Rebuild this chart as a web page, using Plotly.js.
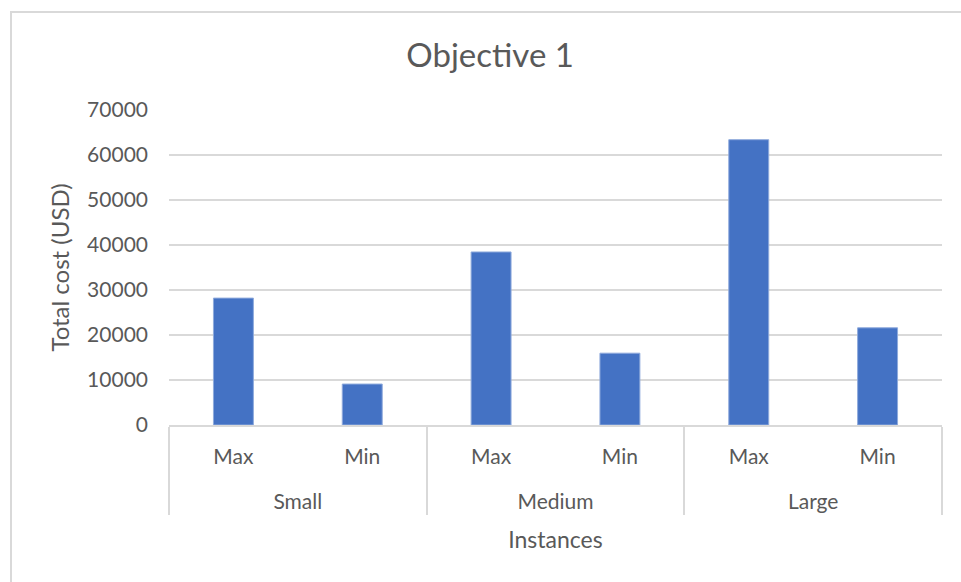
<!DOCTYPE html>
<html>
<head>
<meta charset="utf-8">
<script src="https://cdn.plot.ly/plotly-3.0.1.min.js"></script>
<style>
  html, body { margin: 0; padding: 0; background: #fff; }
  #wrap { position: relative; width: 961px; height: 582px; overflow: hidden; }
  #chart { position: absolute; left: 0; top: 0; width: 961px; height: 582px; }
  #frame {
    position: absolute; left: 10px; top: 11px; width: 1000px; height: 620px;
    border-left: 2px solid #d9d9d9; border-top: 2px solid #d9d9d9;
    pointer-events: none;
  }
</style>
</head>
<body>
<div id="wrap">
  <div id="chart"></div>
  <div id="frame"></div>
</div>
<script>
// Instance size groups and the bound within each group
const groups = ["Small", "Small", "Medium", "Medium", "Large", "Large"];
const bounds = ["Max", "Min", "Max", "Min", "Max", "Min"];
// Total cost in USD
const totalCost = [28200, 9100, 38450, 15960, 63400, 21600];
// Value axis ticks
const yTicks = [0, 10000, 20000, 30000, 40000, 50000, 60000, 70000];

const textColor = "#595959";
const font = "Lato, 'Open Sans', sans-serif";

// a blank second line under each inner label opens up the gap to the group row
const innerLabels = bounds.map(b => b + "<br><span style='font-size:32px'>&nbsp;</span>");

const trace = {
  type: "bar",
  x: [groups, innerLabels],
  y: totalCost,
  marker: { color: "#4472C4", line: { color: "#8faadc", width: 1 } },
  hoverinfo: "y"
};

const layout = {
  width: 961,
  height: 582,
  paper_bgcolor: "#ffffff",
  plot_bgcolor: "#ffffff",
  margin: { l: 169, r: 19, t: 110, b: 157 },
  bargap: 0.69,
  showlegend: false,
  font: { family: font, color: textColor },
  title: {
    text: "Objective 1",
    font: { family: font, size: 33, color: textColor },
    x: 0.51, xanchor: "center",
    y: 0.905, yanchor: "middle"
  },
  xaxis: {
    type: "multicategory",
    showline: true, linecolor: "#d9d9d9", linewidth: 2,
    showgrid: false,
    ticks: "",
    ticklabelstandoff: 12,
    tickfont: { family: font, size: 21, color: textColor },
    showdividers: true, dividercolor: "#d9d9d9", dividerwidth: 2,
    title: { text: "Instances", font: { family: font, size: 23, color: textColor }, standoff: 19 }
  },
  yaxis: {
    range: [0, 70000],
    tickvals: yTicks,
    ticktext: yTicks.map(String),
    showline: false,
    showgrid: true, gridcolor: "#d9d9d9", gridwidth: 2,
    zeroline: false,
    ticks: "",
    ticklabelstandoff: 20,
    tickfont: { family: font, size: 21, color: textColor },
    title: { text: "Total cost (USD)", font: { family: font, size: 24, color: textColor }, standoff: 10 }
  }
};

Plotly.newPlot("chart", [trace], layout, { displayModeBar: false, staticPlot: true });
</script>
</body>
</html>
